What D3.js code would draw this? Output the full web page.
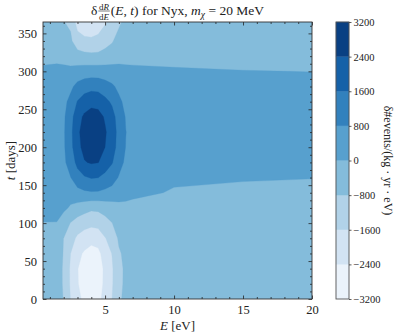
<!DOCTYPE html>
<html><head><meta charset="utf-8">
<script src="https://cdn.jsdelivr.net/npm/d3@7"></script>
<style>
body{margin:0;background:#fff}
svg{display:block;font-family:"Liberation Serif","DejaVu Serif",serif}
</style>
</head><body>
<svg id="c" width="399" height="336"></svg>
<script>
// ---- data ----
const energies = [0.5, 1.5, 2, 2.5, 3, 3.5, 4, 4.5, 5, 5.5, 6, 6.5, 7, 10, 15, 20];   // E [eV]
const days = [0, 20, 40, 60, 80, 100, 120, 140, 160, 180, 200, 220, 240, 260, 280, 300, 320, 340, 365]; // t [days]
// delta #events/(kg yr eV); one row per day, one column per energy
const deltaRate = [
  [-520, -620, -820, -1627, -2236, -2543, -2750, -2638, -2100, -1607, -895, -659, -565, -520, -500, -480],
  [-545, -645, -840, -1715, -2357, -2681, -2900, -2780, -2213, -1694, -943, -695, -596, -560, -540, -520],
  [-550, -650, -840, -1727, -2374, -2700, -2920, -2800, -2229, -1706, -950, -700, -600, -580, -560, -540],
  [-530, -630, -820, -1597, -2196, -2498, -2700, -2590, -2062, -1578, -879, -648, -580, -560, -540, -520],
  [-440, -520, -810, -1271, -1747, -1987, -2150, -2061, -1641, -1256, -699, -515, -500, -500, -480, -460],
  [-25, -30, -420, -827, -1137, -1293, -1400, -1341, -1068, -817, -455, -335, -380, -400, -380, -360],
  [300, 330, 160, -100, -300, -500, -650, -624, -497, -380, -212, -156, -190, -260, -250, -240],
  [410, 450, 420, 345, 556, 672, 730, 711, 613, 503, 329, 200, 140, -50, -110, -110],
  [470, 520, 560, 780, 1258, 1520, 1650, 1610, 1386, 1138, 745, 453, 380, 90, 40, 10],
  [515, 570, 650, 1136, 1832, 2350, 2470, 2420, 2019, 1657, 1085, 659, 540, 220, 160, 120],
  [540, 595, 695, 1348, 2174, 2628, 2850, 2782, 2396, 1967, 1288, 782, 620, 310, 250, 210],
  [550, 600, 703, 1395, 2250, 2720, 2950, 2880, 2480, 2036, 1333, 810, 650, 360, 300, 260],
  [535, 585, 680, 1300, 2097, 2535, 2750, 2684, 2311, 1898, 1242, 755, 620, 350, 300, 260],
  [485, 530, 600, 1017, 1640, 1983, 2150, 2100, 1808, 1484, 972, 590, 520, 280, 240, 200],
  [370, 400, 430, 639, 1031, 1246, 1350, 1319, 1136, 932, 611, 371, 340, 170, 140, 110],
  [150, 220, 230, 190, 306, 370, 400, 392, 337, 277, 181, 110, 110, 40, 10, -5],
  [-230, -220, -300, -354, -487, -554, -600, -574, -457, -350, -195, -144, -160, -110, -130, -130],
  [-420, -480, -620, -680, -1220, -1450, -1500, -1440, -1146, -877, -490, -360, -350, -260, -270, -260],
  [-500, -590, -780, -923, -1950, -2050, -2000, -1900, -1680, -1400, -950, -560, -520, -400, -400, -380]
];
const levels = [-3200, -2400, -1600, -800, 0, 800, 1600, 2400, 3200];
const xMajor = [5, 10, 15, 20];
const yMajor = [0, 50, 100, 150, 200, 250, 300, 350];

// ---- layout ----
const svg = d3.select("#c");
const P = {l: 43, r: 312, t: 22, b: 299};
const CB = {l: 336, r: 349};
const x = d3.scaleLinear().domain([0.5, 20]).range([P.l, P.r]);
const y = d3.scaleLinear().domain([0, 365]).range([P.b, P.t]);
const bandColors = levels.slice(0, -1).map((v, i) => d3.interpolateBlues((i + 0.5) / (levels.length - 1)));

// contours on the (non-uniform) grid
const nx = energies.length, ny = days.length;
const values = deltaRate.flat();
const ix = d3.scaleLinear().domain(d3.range(nx)).range(energies).clamp(true);
const iy = d3.scaleLinear().domain(d3.range(ny)).range(days).clamp(true);
const contours = d3.contours().size([nx, ny]).thresholds(levels.slice(0, -1))(values);
const proj = d3.geoTransform({point(px, py) { this.stream.point(x(ix(px - 0.5)), y(iy(py - 0.5))); }});
const path = d3.geoPath(proj);

svg.append("clipPath").attr("id", "clip").append("rect")
  .attr("x", P.l).attr("y", P.t).attr("width", P.r - P.l).attr("height", P.b - P.t);
svg.append("g").attr("clip-path", "url(#clip)")
  .selectAll("path").data(contours).join("path")
  .attr("d", path)
  .attr("fill", (d, i) => bandColors[i])
  .attr("stroke", (d, i) => bandColors[i]).attr("stroke-width", 0.3);

// axes: inward ticks on all sides
const fs = 12.5;
function styleAxis(g) {
  g.select(".domain").remove();
  g.selectAll("line").attr("stroke", "#222").attr("stroke-width", 0.8);
  g.selectAll("text").attr("font-size", fs).attr("fill", "#222").attr("font-family", "Liberation Serif, serif");
}
const xMinor = d3.range(1, 21).filter(v => !xMajor.includes(v));
const yMinor = d3.range(0, 366, 10).filter(v => !yMajor.includes(v));
svg.append("g").attr("transform", `translate(0,${P.b})`)
  .call(d3.axisBottom(x).tickValues(xMajor).tickSize(-3.5).tickPadding(6).tickFormat(d3.format("d"))).call(styleAxis);
svg.append("g").attr("transform", `translate(0,${P.b})`)
  .call(d3.axisBottom(x).tickValues(xMinor).tickSize(-2).tickFormat("")).call(styleAxis);
svg.append("g").attr("transform", `translate(0,${P.t})`)
  .call(d3.axisTop(x).tickValues(xMajor).tickSize(-3.5).tickFormat("")).call(styleAxis);
svg.append("g").attr("transform", `translate(0,${P.t})`)
  .call(d3.axisTop(x).tickValues(xMinor).tickSize(-2).tickFormat("")).call(styleAxis);
svg.append("g").attr("transform", `translate(${P.l},0)`)
  .call(d3.axisLeft(y).tickValues(yMajor).tickSize(-3.5).tickPadding(6).tickFormat(d3.format("d"))).call(styleAxis);
svg.append("g").attr("transform", `translate(${P.l},0)`)
  .call(d3.axisLeft(y).tickValues(yMinor).tickSize(-2).tickFormat("")).call(styleAxis);
svg.append("g").attr("transform", `translate(${P.r},0)`)
  .call(d3.axisRight(y).tickValues(yMajor).tickSize(-3.5).tickFormat("")).call(styleAxis);
svg.append("g").attr("transform", `translate(${P.r},0)`)
  .call(d3.axisRight(y).tickValues(yMinor).tickSize(-2).tickFormat("")).call(styleAxis);
svg.append("rect").attr("x", P.l).attr("y", P.t).attr("width", P.r - P.l).attr("height", P.b - P.t)
  .attr("fill", "none").attr("stroke", "#333").attr("stroke-width", 0.9);

// axis labels
const xl = svg.append("text").attr("x", (P.l + P.r) / 2).attr("y", 330).attr("text-anchor", "middle").attr("font-size", 13).attr("fill", "#222");
xl.append("tspan").attr("font-style", "italic").text("E");
xl.append("tspan").text(" [eV]");
const yl = svg.append("text").attr("transform", `translate(15,${(P.t + P.b) / 2}) rotate(-90)`).attr("text-anchor", "middle").attr("font-size", 13).attr("fill", "#222");
yl.append("tspan").attr("font-style", "italic").text("t");
yl.append("tspan").text(" [days]");

// colorbar
const cy = d3.scaleLinear().domain([levels[0], levels[levels.length - 1]]).range([P.b, P.t]);
svg.append("g").selectAll("rect").data(levels.slice(0, -1)).join("rect")
  .attr("x", CB.l).attr("width", CB.r - CB.l)
  .attr("y", (d, i) => cy(levels[i + 1])).attr("height", (d, i) => cy(levels[i]) - cy(levels[i + 1]))
  .attr("fill", (d, i) => bandColors[i]).attr("stroke", (d, i) => bandColors[i]).attr("stroke-width", 0.3);
svg.append("rect").attr("x", CB.l).attr("y", P.t).attr("width", CB.r - CB.l).attr("height", P.b - P.t)
  .attr("fill", "none").attr("stroke", "#555").attr("stroke-width", 0.9);
svg.append("g").attr("transform", `translate(${CB.r},0)`)
  .call(d3.axisRight(cy).tickValues(levels).tickSize(2.5).tickPadding(2).tickFormat(d => d3.format("d")(d).replace("-", "\u2212")))
  .call(g => { g.select(".domain").remove(); g.selectAll("line").attr("stroke", "#333").attr("stroke-width", 0.8);
               g.selectAll("text").attr("font-size", 10.5).attr("fill", "#222").attr("font-family", "Liberation Serif, serif"); });
svg.append("text").attr("transform", `translate(384,${(P.t + P.b) / 2}) rotate(90)`)
  .attr("text-anchor", "middle").attr("font-size", 12).attr("fill", "#222")
  .text("\u03b4#events/(kg \u00b7 yr \u00b7 eV)");

// title: δ dR/dE (E, t) for Nyx, m_χ = 20 MeV
const tg = svg.append("g").attr("fill", "#222");
const base = 15, tfs = 13.5;
let cx = 0;
const t1 = tg.append("text").attr("x", cx).attr("y", base).attr("font-size", tfs).text("\u03b4");
cx += t1.node().getComputedTextLength() + 1;
const num = tg.append("text").attr("y", base - 5.5).attr("font-size", 9).attr("text-anchor", "middle");
num.append("tspan").text("d"); num.append("tspan").attr("font-style", "italic").text("R");
const den = tg.append("text").attr("y", base + 4.5).attr("font-size", 9).attr("text-anchor", "middle");
den.append("tspan").text("d"); den.append("tspan").attr("font-style", "italic").text("E");
const fw = Math.max(num.node().getComputedTextLength(), den.node().getComputedTextLength()) + 1.5;
num.attr("x", cx + fw / 2); den.attr("x", cx + fw / 2);
tg.append("line").attr("x1", cx).attr("x2", cx + fw).attr("y1", base - 4).attr("y2", base - 4).attr("stroke", "#222").attr("stroke-width", 0.6);
cx += fw + 1;
const t2 = tg.append("text").attr("x", cx).attr("y", base).attr("font-size", tfs);
t2.append("tspan").text("(");
t2.append("tspan").attr("font-style", "italic").text("E");
t2.append("tspan").text(", ");
t2.append("tspan").attr("font-style", "italic").text("t");
t2.append("tspan").text(") for Nyx, ");
t2.append("tspan").attr("font-style", "italic").text("m");
t2.append("tspan").attr("font-style", "italic").attr("font-size", 9.5).attr("dy", 3).text("\u03c7");
t2.append("tspan").attr("dy", -3).text(" = 20 MeV");
cx += t2.node().getComputedTextLength();
tg.attr("transform", `translate(${(P.l + P.r) / 2 - cx / 2},0)`);
</script>
</body></html>
